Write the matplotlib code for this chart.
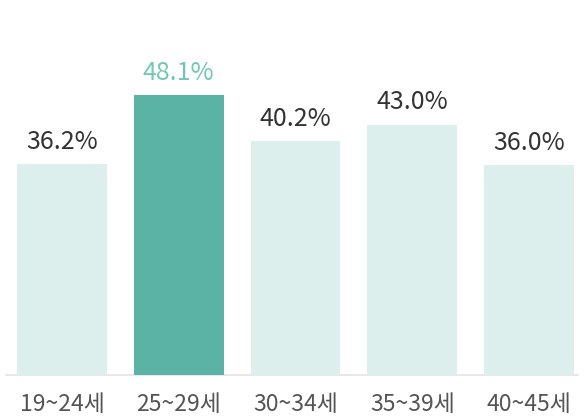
import matplotlib

matplotlib.use("Agg")
import matplotlib.pyplot as plt

plt.rcParams["font.family"] = ["Noto Sans CJK KR", "DejaVu Sans"]

AGE_GROUPS = ["19~24세", "25~29세", "30~34세", "35~39세", "40~45세"]
SHARES = [36.2, 48.1, 40.2, 43.0, 36.0]
HIGHLIGHT = 1

_BAR_LIGHT = "#dcefec"
_BAR_DARK = "#5bb3a6"
_LABEL_DARK = "#333333"
_LABEL_HI = "#72c6b8"
_TICK_COLOR = "#555555"

fig = plt.figure(figsize=(5.84, 4.19), dpi=100)
ax = fig.add_axes([0, 0, 1, 1])
ax.axis("off")

xs = list(range(len(AGE_GROUPS)))
colors = [_BAR_DARK if i == HIGHLIGHT else _BAR_LIGHT for i in xs]
ax.bar(xs, SHARES, width=0.77, color=colors, zorder=2)

# faint baseline under the bars
ax.axhline(0, xmin=0.01, xmax=0.99, color="#e4e4e4", lw=1.2, zorder=1)

for i, (x, v) in enumerate(zip(xs, SHARES)):
    ax.annotate(
        f"{v:.1f}%",
        xy=(x, v), xytext=(0, 11), textcoords="offset points",
        ha="center", va="baseline", fontsize=18,
        color=_LABEL_HI if i == HIGHLIGHT else _LABEL_DARK,
    )
    ax.text(x, -5.15, AGE_GROUPS[i], ha="center", va="center",
            fontsize=16.5, color=_TICK_COLOR)

ax.set_xlim(-0.531, 4.471)
ax.set_ylim(-7.56, 64.43)

fig.savefig("out.png", dpi=100)
